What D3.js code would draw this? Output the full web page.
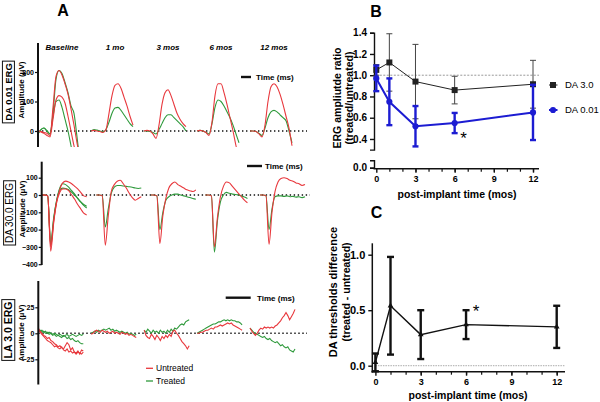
<!DOCTYPE html>
<html>
<head>
<meta charset="utf-8">
<script src="https://cdn.jsdelivr.net/npm/d3@7"></script>
<style>
  body { margin: 0; background: #fff; }
  svg { font-family: "Liberation Sans", Arial, sans-serif; }
</style>
</head>
<body>
<svg id="fig" width="600" height="402"></svg>
<script>
/* ---------- data ---------- */

const timepoints = ["Baseline", "1 mo", "3 mos", "6 mos", "12 mos"];

/* ERG traces, amplitude in uV, sampled every 10 ms (DA) or 6 ms (LA).
   one entry per time point, each holding one or two traces */
const da001Untreated = [
  [[0, -2, -5, -8, -15, 80, 185, 205, 190, 160, 125, 75, 20, -40, -90, -120],
   [0, -3, -8, -15, -20, 40, 105, 120, 115, 95, 50, 0, -50, -90, -120, -140]],
  [[0, 2, 0, -2, -5, 5, 60, 120, 155, 160, 145, 115, 85, 50, 20]],
  [[0, 2, 0, -10, -25, 20, 90, 130, 140, 120, 90, 60, 40, 25, 15]],
  [[0, 2, 0, -5, -15, 30, 120, 160, 160, 130, 90, 45, 0, -50, -90]],
  [[0, 0, -2, -10, -20, 20, 100, 150, 160, 150, 125, 90, 50, 10, -50]]
];
const da001Treated = [
  [[-10, 5, 10, 0, -10, 60, 175, 205, 195, 165, 130, 85, 60, -20, -100, -140],
   [-10, 5, 10, 0, -10, 50, 100, 105, 80, 40, 0, -50, -100, -130, -150, -160]],
  [[0, 5, 3, 0, -3, 5, 30, 60, 78, 80, 70, 55, 40, 25, 15]],
  [[0, 0, -2, -5, -10, 5, 25, 45, 55, 55, 45, 35, 25, 15, 0]],
  [[0, 2, 0, -5, -10, 25, 80, 105, 100, 85, 65, 45, 20, -10, -40]],
  [[0, 0, -2, -8, -15, 10, 45, 65, 70, 65, 55, 45, 35, 0, -40]]
];

const da30Untreated = [
  [[0, 0, -5, -325, -160, -40, 30, 70, 80, 75, 65, 50, 35, 15, -5, -10],
   [0, 0, -5, -300, -150, -40, 15, 35, 35, 25, 0, -25, -55, -80, -105, -115]],
  [[0, 0, -5, -290, -120, 20, 60, 80, 85, 65, 40, 10, -15, -30, -20, -10]],
  [[0, 0, -5, -280, -120, -20, 40, 65, 75, 60, 50, 40, 30, 25, 20, 30]],
  [[0, 0, -5, -300, -130, -10, 50, 75, 70, 50, 30, 10, -10, -30, -45]],
  [[0, 0, -5, -285, -100, 20, 75, 95, 100, 95, 85, 80, 70, 65, 55, 60]]
];
const da30Treated = [
  [[0, 0, -5, -290, -140, -30, 40, 65, 60, 45, 25, 5, -20, -40, -60, -75],
   [0, 0, -5, -280, -130, -30, 30, 40, 38, 30, 15, 0, -20, -40, -55, -65]],
  [[0, 0, -5, -185, -80, 10, 45, 55, 55, 52, 50, 48, 45, 40, 38, 40]],
  [[0, 0, -5, -200, -100, -30, -10, 0, 5, 5, 0, -5, -10, -15, -20, -25]],
  [[0, 0, -5, -330, -150, -40, 0, 15, 10, 5, 3, 0, -5, -12, -20]],
  [[0, 0, -5, -200, -80, -10, -5, -5, -8, -5, -10, -8, -12, -10, -15, -10]]
];

const la3Untreated = [
  [[5, 2, 0, -2, -3, -5, -4, -7, -8, -10, -11, -13, -12, -14, -15, -12, -9, -11, -16, -14, -18, -19, -17, -20, -16, -17],
   [3, 1, -1, -3, -5, -7, -8, -9, -11, -13, -12, -14, -15, -13, -16, -17, -15, -18, -17, -19, -18, -20, -18, -19, -20, -18]],
  [[-1, 0, 2, 3, 2, 1, 3, 2, 1, 2, 0, 1, 2, 0, 1, 0, -1, 1, 0, -1, 0, -2, -1, -2, -3, -4]],
  [[3, -2, -4, -5, -1, -3, -6, -2, -4, -7, -3, -5, -2, -4, -1, -3, 2, 3, 0, -2, -5, -8, -10, -12, -15, -12]],
  [[0, 0, 1, 1, 2, 3, 3, 4, 5, 4, 6, 6, 7, 8, 7, 8, 9, 10, 9, 10, 8, 7, 6, 5, 4, 3]],
  [[5, 2, 0, -2, 0, 3, 5, 4, 6, 5, 6, 5, 6, 5, 7, 8, 10, 12, 15, 17, 20, 17, 13, 16, 19, 23]]
];
const la3Treated = [
  [[2, 3, 1, 2, 0, 1, -1, 0, -2, -1, -3, -2, -3, -4, -2, -3, -5, -4, -6, -5, -7, -8, -7, -9, -10, -10],
   [3, 2, 3, 1, 2, 0, 1, 0, -1, 0, -1, -2, -1, -2, -3, -2, -1, -3, -2, -1, -2, -3, -2, -1, -2, -1]],
  [[0, 1, 2, 1, 3, 2, 3, 4, 3, 4, 5, 3, 4, 2, 3, 2, 1, 2, 1, 0, 1, -1, 0, -1, -2, -1]],
  [[3, 1, 4, 2, 0, 3, 1, 2, 0, 3, 1, 2, 0, 3, 1, 4, 2, 5, 4, 6, 8, 9, 8, 11, 12, 13]],
  [[0, 1, 2, 3, 4, 5, 6, 7, 8, 9, 9, 10, 11, 11, 12, 13, 12, 13, 12, 13, 12, 12, 11, 11, 10, 8]],
  [[5, 3, 1, 0, -1, -2, -3, -4, -3, -5, -6, -5, -7, -8, -9, -8, -10, -12, -11, -13, -14, -13, -16, -17, -18, -15]]
];

/* panel B: amplitude ratio (treated/untreated), mean and error */
const months = [0, 1, 3, 6, 12];
const da30Ratio = [1.05, 1.12, 0.94, 0.86, 0.915];
const da30Err = [0.05, 0.27, 0.35, 0.13, 0.225];
const da001Ratio = [0.97, 0.75, 0.52, 0.55, 0.65];
const da001Err = [0.12, 0.22, 0.19, 0.095, 0.26];

/* panel C: DA threshold difference (treated - untreated) */
const threshDiff = [0.03, 0.54, 0.28, 0.37, 0.35];
const threshErr = [0.08, 0.44, 0.22, 0.13, 0.19];

/* ---------- setup ---------- */

const RED = "#e8383d", GREEN = "#2f9a3c", BLUE = "#1c1cd2";
const NARROW = "'Liberation Sans Narrow', 'Liberation Sans', Arial";
const svg = d3.select("#fig");
const defs = svg.append("defs");

const tScale = d3.scaleLinear().domain([0, 150]).range([0, 45]);

/* ---------- panel A ---------- */

svg.append("text").attr("x", 63).attr("y", 16).attr("text-anchor", "middle")
  .attr("font-size", 16).attr("font-weight", "bold").text("A");

const groupTitleX = d3.scalePoint().domain(timepoints).range([62, 274]);
svg.append("g").selectAll("text").data(timepoints).join("text")
  .attr("x", d => groupTitleX(d)).attr("y", 50)
  .attr("text-anchor", "middle")
  .attr("font-family", NARROW)
  .attr("font-size", 8).attr("font-weight", "bold").attr("font-style", "italic")
  .text(d => d);

const ergPanels = [
  { id: "p1", label: "DA 0.01 ERG", labelBold: true, labelSize: 9.5,
    red: da001Untreated, green: da001Treated, step: 10,
    y: d3.scaleLinear().domain([0, 200]).range([131, 72]), ticks: [200, 100, 0],
    axisX: 38, axisSpan: [43, 147], groups: [38, 250], clip: [38, 147],
    zeroEnd: 307, box: [8.5, 92], amp: [21.5, 90],
    bar: [241, 251, 77], barText: 256, curve: d3.curveMonotoneX },
  { id: "p2", label: "DA 30.0 ERG", labelBold: false, labelSize: 10,
    red: da30Untreated, green: da30Treated, step: 10,
    y: d3.scaleLinear().domain([0, 100]).range([195, 177.7]), ticks: [100, 0, -100, -200, -300, -400],
    axisX: 41.7, axisSpan: [161.7, 265], groups: [41.7, 260], clip: [152, 268],
    zeroEnd: 310, box: [9.5, 213], amp: [22.5, 209],
    bar: [247, 262, 166], barText: 265, curve: d3.curveMonotoneX },
  { id: "p3", label: "LA 3.0 ERG", labelBold: true, labelSize: 10.5,
    red: la3Untreated, green: la3Treated, step: 6,
    y: d3.scaleLinear().domain([0, 25]).range([333.3, 307.3]), ticks: [25, 0, -25],
    axisX: 38.3, axisSpan: [281, 384.5], groups: [38.3, 250], clip: [278, 392],
    zeroEnd: 307, box: [8.5, 330], amp: [21.5, 333],
    bar: [225.7, 250.7, 297.7], barText: 257, curve: d3.curveLinear }
];

ergPanels.forEach(p => {
  const g = svg.append("g");
  const gx = d3.scalePoint().domain(timepoints).range(p.groups);

  /* zero line */
  g.append("line")
    .attr("x1", p.axisX).attr("x2", p.zeroEnd)
    .attr("y1", p.y(0)).attr("y2", p.y(0))
    .attr("stroke", "#111").attr("stroke-width", 1.6)
    .attr("stroke-dasharray", "1.4,2.6");

  /* traces */
  defs.append("clipPath").attr("id", "clip-" + p.id).append("rect")
    .attr("x", 0).attr("y", p.clip[0]).attr("width", 330).attr("height", p.clip[1] - p.clip[0]);
  const traces = g.append("g").attr("clip-path", `url(#clip-${p.id})`);
  const line = d3.line()
    .x(d => d[0]).y(d => p.y(d[1])).curve(p.curve);
  [[p.green, GREEN], [p.red, RED]].forEach(([set, col]) => {
    set.forEach((group, gi) => {
      group.forEach(tr => {
        const pts = tr.map((v, i) => [gx(timepoints[gi]) + tScale(i * p.step), v]);
        traces.append("path").attr("d", line(pts))
          .attr("fill", "none").attr("stroke", col).attr("stroke-width", 1.1);
      });
    });
  });

  /* axis */
  const ax = g.append("g").attr("transform", `translate(${p.axisX},0)`)
    .call(d3.axisLeft(p.y).tickValues(p.ticks).tickSize(3).tickPadding(1));
  ax.select(".domain").remove();
  ax.selectAll("line").attr("stroke", "#111").attr("stroke-width", 1.2);
  ax.selectAll("text").attr("font-size", 7).attr("font-weight", "bold")
    .attr("font-family", NARROW);
  g.append("line").attr("x1", p.axisX).attr("x2", p.axisX)
    .attr("y1", p.axisSpan[0]).attr("y2", p.axisSpan[1])
    .attr("stroke", "#111").attr("stroke-width", 2);

  /* boxed label */
  const lb = g.append("g").attr("transform", `translate(${p.box[0]},${p.box[1]}) rotate(-90)`);
  const lt = lb.append("text").attr("text-anchor", "middle").attr("dy", "0.36em")
    .attr("font-size", p.labelSize).attr("font-weight", p.labelBold ? "bold" : "normal")
    .text(p.label);
  const bb = lt.node().getBBox();
  lb.insert("rect", "text")
    .attr("x", bb.x - 2).attr("y", bb.y - 0.5).attr("width", bb.width + 4).attr("height", bb.height + 1)
    .attr("fill", "none").attr("stroke", "#111").attr("stroke-width", 1);

  g.append("text").attr("transform", `translate(${p.amp[0]},${p.amp[1]}) rotate(-90)`)
    .attr("text-anchor", "middle").attr("dy", "0.35em")
    .attr("font-size", 8).attr("font-weight", "bold")
    .text("Amplitude (\u03bcV)");

  /* time scale bar */
  g.append("line").attr("x1", p.bar[0]).attr("x2", p.bar[1])
    .attr("y1", p.bar[2]).attr("y2", p.bar[2])
    .attr("stroke", "#111").attr("stroke-width", 2.4);
  g.append("text").attr("x", p.barText).attr("y", p.bar[2]).attr("dy", "0.35em")
    .attr("font-family", NARROW)
    .attr("font-size", 8).attr("font-weight", "bold").text("Time (ms)");
});

/* legend for A */
const legA = svg.append("g");
[["Untreated", RED, 368.3], ["Treated", GREEN, 381]].forEach(([name, col, yy]) => {
  legA.append("line").attr("x1", 146).attr("x2", 153).attr("y1", yy).attr("y2", yy)
    .attr("stroke", col).attr("stroke-width", 1.3);
  legA.append("text").attr("x", 156).attr("y", yy).attr("dy", "0.35em")
    .attr("font-family", NARROW)
    .attr("font-size", 8.5).text(name);
});

/* ---------- panel B ---------- */

const gB = svg.append("g");
const xB = d3.scaleLinear().domain([0, 12]).range([376.3, 533]);
const yB = d3.scaleLinear().domain([0.3, 1.4]).range([149.6, 32.7]);
const yB0 = d3.scaleLinear().domain([0, 0.07]).range([167.7, 160.3]);

gB.append("text").attr("x", 376).attr("y", 17).attr("text-anchor", "middle")
  .attr("font-size", 16).attr("font-weight", "bold").text("B");

/* reference line at 1 */
gB.append("line").attr("x1", xB(0)).attr("x2", 539).attr("y1", yB(1)).attr("y2", yB(1))
  .attr("stroke", "#999").attr("stroke-width", 1).attr("stroke-dasharray", "2,1.5");

/* y axis (broken) */
const axB = gB.append("g").attr("transform", "translate(374,0)")
  .call(d3.axisLeft(yB).tickValues([0.4, 0.6, 0.8, 1.0, 1.2, 1.4]).tickFormat(d3.format(".1f")).tickSize(4).tickSizeOuter(4));
const axB0 = gB.append("g").attr("transform", "translate(374,0)")
  .call(d3.axisLeft(yB0).tickValues([0]).tickFormat(d3.format(".1f")).tickSize(4).tickSizeOuter(4));
[axB, axB0].forEach(a => {
  a.selectAll("path,line").attr("stroke", "#111").attr("stroke-width", 1.4);
  a.selectAll("text").attr("font-size", 10).attr("font-weight", "bold");
});

/* x axis */
const axBx = gB.append("g").attr("transform", "translate(0,168.7)")
  .call(d3.axisBottom(xB).tickValues([0, 3, 6, 9, 12]).tickSize(4));
axBx.select(".domain").remove();
gB.append("g").attr("transform", "translate(0,168.7)")
  .call(d3.axisBottom(xB).tickValues(d3.range(1, 13)).tickSize(3).tickFormat(""))
  .call(a => a.select(".domain").remove())
  .selectAll("line").attr("stroke", "#111").attr("stroke-width", 1.2);
gB.append("line").attr("x1", 373.5).attr("x2", 539).attr("y1", 168.7).attr("y2", 168.7)
  .attr("stroke", "#111").attr("stroke-width", 1.5);
axBx.selectAll("line").attr("stroke", "#111").attr("stroke-width", 1.4);
axBx.selectAll("text").attr("font-size", 9).attr("font-weight", "bold");

gB.append("text").attr("x", 457).attr("y", 194.5).attr("text-anchor", "middle").attr("dy", "0.35em")
  .attr("font-size", 10.5).attr("font-weight", "bold").text("post-implant time (mos)");
gB.append("text").attr("transform", "translate(337,98) rotate(-90)").attr("text-anchor", "middle")
  .attr("dy", "0.35em").attr("font-size", 10.5).attr("font-weight", "bold").text("ERG ampliutde ratio");
gB.append("text").attr("transform", "translate(349.5,98) rotate(-90)").attr("text-anchor", "middle")
  .attr("dy", "0.35em").attr("font-size", 10.5).attr("font-weight", "bold").text("(treated/untreated)");

function drawSeries(g, xs, ys, vals, errs, opt) {
  const pts = months.map((m, i) => ({ x: xs(m), y: ys(vals[i]), hi: ys(vals[i] + errs[i]), lo: ys(vals[i] - errs[i]) }));
  g.append("path").attr("d", d3.line().x(d => d.x).y(d => d.y)(pts))
    .attr("fill", "none").attr("stroke", opt.color).attr("stroke-width", opt.lw);
  const eb = g.append("g").attr("stroke", opt.errColor || opt.color).attr("stroke-width", opt.ew);
  pts.forEach(d => {
    eb.append("line").attr("x1", d.x).attr("x2", d.x).attr("y1", d.hi).attr("y2", d.lo);
    eb.append("line").attr("x1", d.x - opt.cap).attr("x2", d.x + opt.cap).attr("y1", d.hi).attr("y2", d.hi);
    eb.append("line").attr("x1", d.x - opt.cap).attr("x2", d.x + opt.cap).attr("y1", d.lo).attr("y2", d.lo);
  });
  const sym = d3.symbol().type(opt.symbol).size(opt.size);
  g.append("g").selectAll("path").data(pts).join("path")
    .attr("transform", d => `translate(${d.x},${d.y})`).attr("d", sym).attr("fill", opt.color);
}

drawSeries(gB, xB, yB, da30Ratio, da30Err,
  { color: "#222", errColor: "#444", lw: 1, ew: 1, cap: 3, symbol: d3.symbolSquare, size: 36 });
drawSeries(gB, xB, yB, da001Ratio, da001Err,
  { color: BLUE, lw: 2, ew: 2.4, cap: 3, symbol: d3.symbolCircle, size: 30 });

gB.append("text").attr("x", xB(6) + 9).attr("y", yB(0.355)).attr("text-anchor", "middle")
  .attr("font-size", 17).text("*");

/* legend B */
const legB = [["DA 3.0", "#222", d3.symbolSquare, 1, 36], ["DA 0.01", BLUE, d3.symbolCircle, 2, 30]];
legB.forEach(([name, col, sym, lw, sz], i) => {
  const yy = 85 + i * 25;
  gB.append("line").attr("x1", 549).attr("x2", 557.5).attr("y1", yy).attr("y2", yy)
    .attr("stroke", col).attr("stroke-width", lw);
  gB.append("path").attr("transform", `translate(553,${yy})`).attr("d", d3.symbol().type(sym).size(sz)())
    .attr("fill", col);
  gB.append("text").attr("x", 565).attr("y", yy).attr("dy", "0.35em")
    .attr("font-size", 9.5).text(name);
});

/* ---------- panel C ---------- */

const gC = svg.append("g");
const xC = d3.scaleLinear().domain([0, 12]).range([375.4, 556.7]);
const yC = d3.scaleLinear().domain([0, 1]).range([365.7, 254.7]);

gC.append("text").attr("x", 376.5).attr("y", 218).attr("text-anchor", "middle")
  .attr("font-size", 16).attr("font-weight", "bold").text("C");

gC.append("line").attr("x1", xC(0)).attr("x2", 565).attr("y1", yC(0)).attr("y2", yC(0))
  .attr("stroke", "#bbb").attr("stroke-width", 1.2).attr("stroke-dasharray", "1.5,1");

const axCy = gC.append("g").attr("transform", "translate(372.3,0)")
  .call(d3.axisLeft(yC).tickValues([0, 0.5, 1]).tickFormat(d3.format(".1f")).tickSize(4));
axCy.select(".domain").remove();
axCy.selectAll("line").attr("stroke", "#111").attr("stroke-width", 1.4);
axCy.selectAll("text").attr("font-size", 11).attr("font-weight", "bold");
gC.append("line").attr("x1", 372.3).attr("x2", 372.3).attr("y1", 243.3).attr("y2", 372.5)
  .attr("stroke", "#111").attr("stroke-width", 1.5);

const axCx = gC.append("g").attr("transform", "translate(0,371.7)")
  .call(d3.axisBottom(xC).tickValues([0, 3, 6, 9, 12]).tickSize(4));
axCx.select(".domain").remove();
axCx.selectAll("line").attr("stroke", "#111").attr("stroke-width", 1.4);
axCx.selectAll("text").attr("font-size", 9).attr("font-weight", "bold");
gC.append("g").attr("transform", "translate(0,371.7)")
  .call(d3.axisBottom(xC).tickValues(d3.range(1, 13)).tickSize(3).tickFormat(""))
  .call(a => a.select(".domain").remove())
  .selectAll("line").attr("stroke", "#111").attr("stroke-width", 1.2);
gC.append("line").attr("x1", 371.5).attr("x2", 565).attr("y1", 371.7).attr("y2", 371.7)
  .attr("stroke", "#111").attr("stroke-width", 1.5);

gC.append("text").attr("x", 468).attr("y", 395.5).attr("text-anchor", "middle").attr("dy", "0.35em")
  .attr("font-size", 10.5).attr("font-weight", "bold").text("post-implant time (mos)");
gC.append("text").attr("transform", "translate(333,292) rotate(-90)").attr("text-anchor", "middle")
  .attr("dy", "0.35em").attr("font-size", 11).attr("font-weight", "bold").text("DA thresholds difference");
gC.append("text").attr("transform", "translate(346,292) rotate(-90)").attr("text-anchor", "middle")
  .attr("dy", "0.35em").attr("font-size", 10.5).attr("font-weight", "bold").text("(treated - untreated)");

drawSeries(gC, xC, yC, threshDiff, threshErr,
  { color: "#111", lw: 1.4, ew: 2.4, cap: 3.5, symbol: d3.symbolTriangle, size: 14 });

gC.append("text").attr("x", xC(6) + 10).attr("y", yC(0.44)).attr("text-anchor", "middle")
  .attr("font-size", 17).text("*");
</script>
</body>
</html>
